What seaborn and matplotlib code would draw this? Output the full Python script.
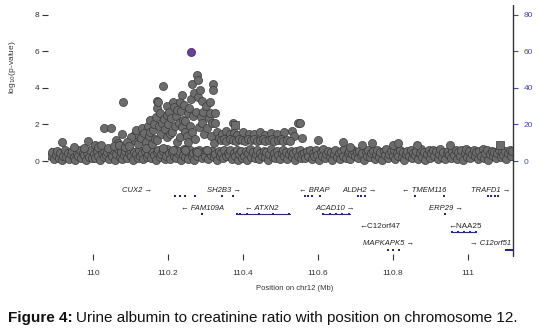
import numpy as np
import pandas as pd
import matplotlib
matplotlib.use("Agg")
import matplotlib.pyplot as plt
from matplotlib.lines import Line2D
import seaborn as sns

# ---------------- SNP association results (position in Mb, -log10 p) ----------------
lead_pos = [110.261]
lead_logp = [5.97]

sq_pos = [110.379, 111.085]
sq_logp = [1.97, 0.88]

peak_pos = [
    109.917, 109.987, 110.005, 110.030, 110.048, 110.060, 110.066, 110.077, 110.080, 110.107,
    110.112, 110.100, 110.115, 110.120, 110.128, 110.131, 110.135, 110.140, 110.141, 110.146,
    110.150, 110.152, 110.152, 110.158, 110.160, 110.163, 110.166, 110.169, 110.170, 110.171,
    110.171, 110.173, 110.175, 110.178, 110.181, 110.184, 110.187, 110.187, 110.190, 110.193,
    110.196, 110.197, 110.197, 110.200, 110.203, 110.206, 110.209, 110.211, 110.213, 110.213,
    110.215, 110.218, 110.221, 110.224, 110.224, 110.228, 110.231, 110.232, 110.235, 110.237,
    110.238, 110.240, 110.242, 110.245, 110.245, 110.246, 110.250, 110.253, 110.253, 110.255,
    110.258, 110.262, 110.264, 110.264, 110.266, 110.270, 110.272, 110.275, 110.277, 110.277,
    110.279, 110.280, 110.283, 110.285, 110.288, 110.290, 110.290, 110.293, 110.296, 110.300,
    110.304, 110.305, 110.308, 110.312, 110.312, 110.315, 110.317, 110.320, 110.320, 110.322,
    110.325, 110.325, 110.330, 110.335, 110.373, 110.345, 110.355, 110.365, 110.375, 110.385,
    110.400, 110.415, 110.430, 110.445, 110.460, 110.475, 110.490, 110.510, 110.530, 110.537,
    110.547, 110.552, 110.556, 110.600, 110.667, 110.685, 110.717, 110.744, 110.800, 110.813,
    110.865, 110.952, 110.340, 110.348, 110.356, 110.364, 110.372, 110.380, 110.388, 110.396,
    110.404, 110.412, 110.420, 110.428, 110.436, 110.444, 110.452, 110.460, 110.468, 110.476,
    110.484, 110.492, 110.500, 110.508, 110.516, 110.524,
    110.012, 110.020, 110.040, 110.055, 110.070, 110.085, 110.090, 110.095, 109.950, 109.975,
]
peak_logp = [
    1.05, 1.10, 0.90, 1.80, 1.80, 1.15, 1.00, 1.50, 3.20, 1.15,
    1.45, 1.30, 1.70, 0.95, 1.25, 1.80, 1.55, 1.05, 0.70, 1.90,
    1.35, 2.25, 1.60, 0.95, 1.70, 2.00, 1.20, 2.40, 3.30, 2.90,
    1.15, 3.20, 1.90, 2.60, 1.45, 2.10, 4.10, 0.70, 2.30, 1.75,
    3.00, 2.50, 1.30, 2.00, 2.70, 1.45, 2.35, 1.60, 3.20, 0.60,
    2.95, 1.90, 2.45, 2.80, 1.05, 2.05, 1.30, 3.20, 2.75, 3.60,
    1.85, 2.25, 3.05, 1.60, 0.60, 2.20, 1.35, 2.60, 1.05, 2.90,
    1.90, 3.40, 4.20, 1.60, 2.45, 3.70, 1.20, 2.70, 4.70, 0.50,
    3.50, 4.40, 1.85, 3.90, 2.40, 3.30, 2.10, 2.70, 1.50, 3.00,
    0.60, 1.80, 2.35, 3.20, 2.60, 1.35, 2.10, 4.20, 3.90, 1.00,
    2.60, 2.10, 1.60, 1.25, 2.10, 1.50, 1.65, 1.45, 1.55, 1.40,
    1.60, 1.45, 1.50, 1.60, 1.40, 1.55, 1.45, 1.60, 1.65, 1.35,
    2.10, 2.10, 1.25, 1.15, 1.05, 0.77, 0.90, 1.00, 0.90, 1.00,
    0.90, 0.90, 1.15, 1.20, 1.12, 1.18, 1.15, 1.10, 1.20, 1.15,
    1.12, 1.18, 1.15, 1.20, 1.10, 1.15, 1.18, 1.12, 1.15, 1.20,
    1.10, 1.15, 1.18, 1.12, 1.15, 1.08,
    0.75, 0.85, 0.70, 0.80, 0.90, 0.75, 1.05, 0.80, 0.75, 0.70,
]

base_left_pos = [
    109.888, 109.891, 109.897, 109.900, 109.905, 109.908, 109.913, 109.916, 109.921, 109.924,
    109.927, 109.933, 109.936, 109.941, 109.944, 109.948, 109.953, 109.956, 109.961, 109.964,
    109.969, 109.972, 109.977, 109.980, 109.983, 109.989, 109.992, 109.997,
]
base_left_logp = [
    0.25, 0.48, 0.10, 0.35, 0.55, 0.18, 0.42, 0.05, 0.30, 0.60,
    0.22, 0.45, 0.12, 0.38, 0.52, 0.20, 0.08, 0.40, 0.28, 0.58,
    0.15, 0.44, 0.32, 0.06, 0.50, 0.24, 0.62, 0.14,
]

base_peak_pos = [
    110.002, 110.006, 110.011, 110.014, 110.018, 110.023, 110.026, 110.030, 110.035, 110.038,
    110.042, 110.047, 110.050, 110.054, 110.059, 110.062, 110.066, 110.071, 110.074, 110.078,
    110.083, 110.086, 110.090, 110.095, 110.098, 110.102, 110.107, 110.110, 110.114, 110.119,
    110.122, 110.126, 110.131, 110.134, 110.138, 110.143, 110.146, 110.150, 110.155, 110.158,
    110.162, 110.167, 110.170, 110.174, 110.179, 110.182, 110.186, 110.191, 110.194, 110.198,
    110.203, 110.206, 110.210, 110.215, 110.218, 110.222, 110.227, 110.230, 110.234, 110.239,
    110.242, 110.246, 110.251, 110.254, 110.258, 110.263, 110.266, 110.270, 110.275, 110.278,
    110.282, 110.287, 110.290, 110.294, 110.299, 110.302, 110.306, 110.311, 110.314, 110.318,
    110.323, 110.326, 110.330, 110.335, 110.338, 110.342, 110.347, 110.350, 110.354, 110.359,
]
base_peak_logp = [
    0.40, 0.15, 0.55, 0.30, 0.08, 0.45, 0.60, 0.20, 0.35, 0.50,
    0.12, 0.42, 0.28, 0.58, 0.05, 0.38, 0.65, 0.22, 0.48, 0.10,
    0.32, 0.55, 0.18, 0.44, 0.62, 0.26, 0.07, 0.50, 0.36, 0.15,
    0.60, 0.30, 0.45, 0.10, 0.55, 0.24, 0.40, 0.68, 0.16, 0.52,
    0.34, 0.06, 0.47, 0.62, 0.20, 0.38, 0.55, 0.12, 0.30, 0.64,
    0.44, 0.09, 0.50, 0.27, 0.60, 0.18, 0.41, 0.56, 0.08, 0.35,
    0.66, 0.22, 0.48, 0.13, 0.58, 0.30, 0.43, 0.05, 0.52, 0.25,
    0.62, 0.37, 0.14, 0.50, 0.28, 0.60, 0.10, 0.45, 0.33, 0.57,
    0.20, 0.40, 0.08, 0.52, 0.30, 0.46, 0.16, 0.58, 0.26, 0.42,
]

base_mid_pos = [
    110.363, 110.366, 110.371, 110.375, 110.378, 110.383, 110.386, 110.390, 110.395, 110.398,
    110.402, 110.407, 110.410, 110.414, 110.419, 110.422, 110.426, 110.431, 110.434, 110.438,
    110.443, 110.446, 110.450, 110.455, 110.458, 110.462, 110.467, 110.470, 110.474, 110.479,
    110.482, 110.486, 110.491, 110.494, 110.498, 110.503, 110.506, 110.510, 110.515, 110.518,
    110.522, 110.527, 110.530, 110.534, 110.539, 110.542, 110.546, 110.551, 110.554, 110.558,
]
base_mid_logp = [
    0.35, 0.58, 0.12, 0.45, 0.25, 0.62, 0.08, 0.40, 0.52, 0.18,
    0.30, 0.55, 0.05, 0.42, 0.66, 0.22, 0.48, 0.14, 0.36, 0.60,
    0.10, 0.44, 0.28, 0.57, 0.20, 0.50, 0.06, 0.38, 0.63, 0.24,
    0.46, 0.15, 0.54, 0.32, 0.09, 0.41, 0.60, 0.26, 0.50, 0.12,
    0.37, 0.56, 0.20, 0.44, 0.07, 0.52, 0.30, 0.62, 0.16, 0.40,
]

base_right_pos = [
    110.562, 110.566, 110.571, 110.574, 110.578, 110.583, 110.586, 110.590, 110.595, 110.598,
    110.602, 110.607, 110.610, 110.614, 110.619, 110.622, 110.626, 110.631, 110.634, 110.638,
    110.643, 110.646, 110.650, 110.655, 110.658, 110.662, 110.667, 110.670, 110.674, 110.679,
    110.682, 110.686, 110.691, 110.694, 110.698, 110.703, 110.706, 110.710, 110.715, 110.718,
    110.722, 110.727, 110.730, 110.734, 110.739, 110.742, 110.746, 110.751, 110.754, 110.758,
    110.763, 110.766, 110.770, 110.775, 110.778, 110.782, 110.787, 110.790, 110.794, 110.799,
    110.802, 110.806, 110.811, 110.814, 110.818, 110.823, 110.826, 110.830, 110.835, 110.838,
    110.842, 110.847, 110.850, 110.854, 110.859, 110.862, 110.866, 110.871, 110.874, 110.878,
    110.883, 110.886, 110.890, 110.895, 110.898, 110.902, 110.907, 110.910, 110.914, 110.919,
    110.922, 110.926, 110.931, 110.934, 110.938, 110.943, 110.946, 110.950, 110.955, 110.958,
    110.962, 110.967, 110.970, 110.974, 110.979, 110.982, 110.986, 110.991, 110.994, 110.998,
    111.003, 111.006, 111.010, 111.015, 111.018, 111.022, 111.027, 111.030, 111.034, 111.039,
    111.042, 111.046, 111.051, 111.054, 111.058, 111.063, 111.066, 111.070, 111.075, 111.078,
    111.082, 111.087, 111.090, 111.094, 111.099, 111.102, 111.106, 111.111, 111.114, 111.118,
]
base_right_logp = [
    0.42, 0.18, 0.55, 0.30, 0.62, 0.10, 0.46, 0.25, 0.58, 0.35,
    0.08, 0.50, 0.28, 0.64, 0.15, 0.40, 0.55, 0.20, 0.47, 0.06,
    0.36, 0.60, 0.22, 0.44, 0.12, 0.52, 0.30, 0.66, 0.18, 0.41,
    0.55, 0.09, 0.38, 0.60, 0.25, 0.48, 0.14, 0.57, 0.32, 0.45,
    0.05, 0.50, 0.28, 0.62, 0.20, 0.43, 0.56, 0.11, 0.36, 0.60,
    0.24, 0.47, 0.08, 0.54, 0.33, 0.65, 0.17, 0.40, 0.52, 0.26,
    0.58, 0.12, 0.44, 0.30, 0.62, 0.21, 0.50, 0.07, 0.38, 0.56,
    0.27, 0.60, 0.15, 0.46, 0.34, 0.54, 0.10, 0.42, 0.64, 0.23,
    0.49, 0.06, 0.37, 0.58, 0.19, 0.45, 0.62, 0.29, 0.52, 0.13,
    0.40, 0.66, 0.24, 0.50, 0.09, 0.43, 0.57, 0.31, 0.18, 0.55,
    0.35, 0.61, 0.12, 0.48, 0.27, 0.58, 0.05, 0.44, 0.63, 0.21,
    0.52, 0.16, 0.40, 0.60, 0.30, 0.47, 0.10, 0.56, 0.25, 0.64,
    0.19, 0.45, 0.62, 0.08, 0.38, 0.55, 0.28, 0.50, 0.14, 0.42,
    0.60, 0.23, 0.48, 0.35, 0.57, 0.11, 0.44, 0.62, 0.30, 0.52,
]

# ---------------- recombination rate (cM/Mb) ----------------
recomb_pos = [109.880, 109.889, 109.891, 109.895, 109.950, 110.000, 110.100, 110.180, 110.190,
              110.200, 110.210, 110.220, 110.300, 110.305, 110.310, 110.315, 110.320, 110.330,
              110.400, 110.500, 110.550, 110.556, 110.560, 110.600, 110.700, 110.800, 110.900,
              111.000, 111.050, 111.120]
recomb_rate = [0.5, 7.0, 6.5, 0.6, 0.4, 0.5, 0.3, 0.4, 2.0,
               0.5, 2.2, 0.6, 0.4, 1.8, 0.4, 1.6, 0.5, 0.3,
               0.3, 0.4, 0.5, 3.0, 0.5, 0.3, 0.4, 0.3, 0.2,
               0.3, 0.4, 0.3]

# ---------------- gene track ----------------
gene_names = ["CUX2 \u2192", "SH2B3 \u2192", "\u2190 BRAP", "ALDH2 \u2192", "\u2190 TMEM116", "TRAFD1 \u2192",
              "\u2190 FAM109A", "\u2190 ATXN2", "ACAD10 \u2192", "ERP29 \u2192",
              "\u2190C12orf47", "\u2190NAA25",
              "MAPKAPK5 \u2192", "\u2192 C12orf51"]
gene_label_pos = [110.117, 110.349, 110.589, 110.712, 110.883, 111.061,
                  110.291, 110.451, 110.645, 110.941,
                  110.765, 110.992,
                  110.789, 111.059]
gene_rows = [1, 1, 1, 1, 1, 1, 2, 2, 2, 2, 3, 3, 4, 4]
gene_italic = [True, True, True, True, True, True, True, True, True, True,
               False, False, True, True]

exon_pos = [110.219, 110.232, 110.245, 110.272, 110.344, 110.373,
            110.565, 110.573, 110.584, 110.605,
            110.707, 110.715, 110.725, 110.859, 110.936,
            111.053, 111.061, 111.072, 111.080,
            110.291, 110.384, 110.392, 110.411, 110.443, 110.480, 110.523,
            110.613, 110.632, 110.648, 110.664, 110.683, 110.939,
            110.957, 110.973, 110.989, 111.005, 111.021,
            110.787, 110.800, 110.816, 111.101, 111.107, 111.113, 111.118]
exon_rows = [1, 1, 1, 1, 1, 1,
             1, 1, 1, 1,
             1, 1, 1, 1, 1,
             1, 1, 1, 1,
             2, 2, 2, 2, 2, 2, 2,
             2, 2, 2, 2, 2, 2,
             3, 3, 3, 3, 3,
             4, 4, 4, 4, 4, 4, 4]

span_start = [110.384, 110.611, 110.957]
span_end = [110.525, 110.685, 111.021]
span_rows = [2, 2, 3]

x_ticks = [110, 110.2, 110.4, 110.6, 110.8, 111]
x_ticklabels = ["110", "110.2", "110.4", "110.6", "110.8", "111"]
y_ticks = [0, 2, 4, 6, 8]
r_ticks = [0, 20, 40, 60, 80]

# ---------------- figure ----------------
sns.set_theme(style="white")
plt.rcParams["font.family"] = ["Liberation Sans", "DejaVu Sans"]

W, H = 541, 334
fig = plt.figure(figsize=(W / 100, H / 100), dpi=100)


def fx(px):
    return px / W


def fy(py):
    return 1 - py / H


BLUE = "#4646b4"
NAVY = "#24248c"
TXT = "#333333"

XLIM = (109.88, 111.12)

ax = fig.add_axes([fx(48), fy(166), (513 - 48) / W, (166 - 8) / H])
ax2 = ax.twinx()
ax2.set_zorder(ax.get_zorder() - 1)
ax.patch.set_visible(False)

# recombination rate on the right axis
rec = pd.DataFrame({"pos": recomb_pos, "rate": recomb_rate})
sns.lineplot(data=rec, x="pos", y="rate", ax=ax2, color=BLUE, lw=0.8,
             sort=False, estimator=None)
ax2.set_ylim(-2.73, 83.6)

snps = pd.DataFrame({
    "pos": base_left_pos + base_peak_pos + base_mid_pos + base_right_pos + peak_pos,
    "logp": base_left_logp + base_peak_logp + base_mid_logp + base_right_logp + peak_logp,
})
sns.scatterplot(data=snps, x="pos", y="logp", ax=ax, color="#6c6c6c",
                edgecolor="#3a3a3a", linewidth=0.5, s=34, zorder=3)
sns.scatterplot(x=sq_pos, y=sq_logp, ax=ax, marker="s", color="#6c6c6c",
                edgecolor="#3a3a3a", linewidth=0.5, s=26, zorder=3)
sns.scatterplot(x=lead_pos, y=lead_logp, ax=ax, color="#6a3f9e",
                edgecolor="#3b2266", linewidth=0.5, s=34, zorder=4)

ax.set_xlim(*XLIM)
ax.set_ylim(-0.273, 8.36)
ax.set_xticks([])
ax.set_yticks(y_ticks)
ax.set_yticklabels([str(t) for t in y_ticks])
ax.tick_params(axis="y", left=True, direction="out", length=4, width=0.8,
               color=TXT, labelsize=6, labelcolor=TXT, pad=2)
ax.set_xlabel("")
ax.set_ylabel("")
for s in ax.spines.values():
    s.set_visible(False)

ax2.set_xlim(*XLIM)
ax2.set_yticks(r_ticks)
ax2.set_yticklabels([str(t) for t in r_ticks])
ax2.tick_params(axis="y", right=True, direction="out", length=3.5, width=0.8,
                color=BLUE, labelsize=6, labelcolor=BLUE, pad=4)
ax2.set_ylabel("")
ax2.set_xlabel("")
for s in ax2.spines.values():
    s.set_visible(False)

# gene track
gax = fig.add_axes([fx(48), fy(260), (513 - 48) / W, (260 - 178) / H])
gax.set_xlim(*XLIM)
gax.set_ylim(4.889, 0.333)
for s in gax.spines.values():
    s.set_visible(False)
gax.set_yticks([])
gax.set_xticks(x_ticks)
gax.set_xticklabels(x_ticklabels)
gax.tick_params(axis="x", bottom=True, direction="in", length=4, width=0.8,
                color=TXT, labelsize=6, labelcolor=TXT, pad=7)

for xs, xe, r in zip(span_start, span_end, span_rows):
    gax.plot([xs, xe], [r + 0.33, r + 0.33], color=NAVY, lw=0.8)
sns.scatterplot(x=exon_pos, y=[r + 0.33 for r in exon_rows], ax=gax, marker="s",
                color=NAVY, s=4, linewidth=0)
for name, xp, r, it in zip(gene_names, gene_label_pos, gene_rows, gene_italic):
    gax.text(xp, r, name, ha="center", va="center", fontsize=5.5 if it else 5.8,
             style="italic" if it else "normal", color="#222222")
gax.set_xlabel("")
gax.set_ylabel("")

# right axis line spanning plot and gene track
fig.add_artist(Line2D([fx(513), fx(513)], [fy(5), fy(256)], transform=fig.transFigure,
                      color="#333333", lw=1.0))

fig.text(fx(12), fy(67), "log$_{10}$(p-value)", rotation=90, ha="center", va="center",
         fontsize=6, color=TXT)
fig.text(fx(295), fy(289), "Position on chr12 (Mb)", ha="center", va="center",
         fontsize=5.5, color=TXT)

# caption
cap1 = fig.text(fx(8), fy(318), "Figure 4:", ha="left", va="center", fontsize=11,
                weight="bold", color="#111111")
fig.canvas.draw()
bb = cap1.get_window_extent()
fig.text((bb.x1 + 3) / W, fy(318),
         "Urine albumin to creatinine ratio with position on chromosome 12.",
         ha="left", va="center", fontsize=11, color="#111111")

fig.savefig("out.png", dpi=100)
